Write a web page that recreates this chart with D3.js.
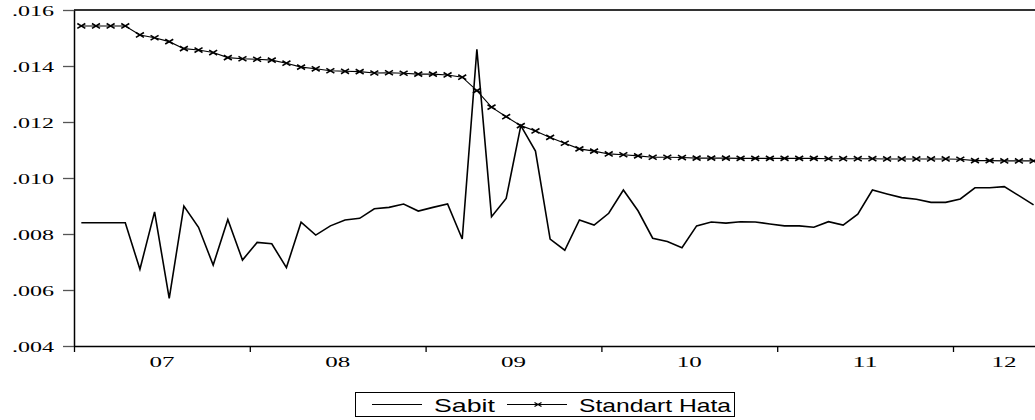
<!DOCTYPE html>
<html>
<head>
<meta charset="utf-8">
<script src="https://cdn.jsdelivr.net/npm/d3@7/dist/d3.min.js"></script>
<style>
  html, body { margin: 0; padding: 0; background: #fff; }
  svg { display: block; }
  .serif { font-family: "Liberation Serif", "DejaVu Serif", serif; }
  .sans { font-family: "Liberation Sans", Arial, sans-serif; }
</style>
</head>
<body>
<script>
// ---- data ----
const startYear = 2007;           // first observation: 2007M01, monthly
const yearLabels = ["07", "08", "09", "10", "11", "12"];
const yTicks = [0.004, 0.006, 0.008, 0.010, 0.012, 0.014, 0.016];
const seriesNames = ["Sabit", "Standart Hata"];

const sabit = [
  0.0084, 0.0084, 0.0084, 0.0084, 0.00674, 0.00879, 0.0057, 0.0090, 0.00824, 0.00689,
  0.00852, 0.00707, 0.0077, 0.00765, 0.0068, 0.00842, 0.00796, 0.00829, 0.0085, 0.00856,
  0.0089, 0.00895, 0.00907, 0.00882, 0.00895, 0.00907, 0.00782, 0.0146, 0.00862, 0.00927,
  0.01187, 0.01096, 0.00782, 0.00742, 0.0085, 0.00832, 0.00874, 0.00957, 0.00883, 0.00785,
  0.00773, 0.00751, 0.00829, 0.00843, 0.00839, 0.00844, 0.00843, 0.00836, 0.00829, 0.00829,
  0.00824, 0.00844, 0.00832, 0.00871, 0.00957, 0.00943, 0.0093, 0.00924, 0.00913, 0.00913,
  0.00925, 0.00965, 0.00965, 0.00969, 0.00937, 0.00904
];

const standartHata = [
  0.01543, 0.01543, 0.01543, 0.01543, 0.01511, 0.01501, 0.01487, 0.01462, 0.01457, 0.01448,
  0.0143, 0.01426, 0.01424, 0.01421, 0.0141, 0.01396, 0.0139, 0.01383, 0.01381, 0.0138,
  0.01375, 0.01376, 0.01374, 0.01371, 0.01371, 0.01368, 0.0136, 0.01312, 0.01253, 0.01219,
  0.01187, 0.01168, 0.01145, 0.01124, 0.01104, 0.01096, 0.01086, 0.01083, 0.01079, 0.01074,
  0.01074, 0.01073, 0.01071, 0.01071, 0.01071, 0.0107, 0.0107, 0.0107, 0.0107, 0.0107,
  0.0107, 0.01069, 0.01069, 0.01069, 0.01069, 0.01068, 0.01068, 0.01068, 0.01068, 0.01068,
  0.01067, 0.01062, 0.01062, 0.01061, 0.01061, 0.01061
];

// ---- layout ----
const W = 1035, H = 420;
const mLeft = 74, mTop = 10, mBottom = 346;
const frameRight = 1055;

const svg = d3.select("body").append("svg")
  .attr("width", W).attr("height", H);

const tOf = i => startYear + (i + 0.5) / 12;
const x = d3.scaleLinear()
  .domain([startYear, startYear + sabit.length / 12])
  .range([mLeft, mLeft + 175.8 * sabit.length / 12]);
const y = d3.scaleLinear().domain([0.004, 0.016]).range([mBottom, mTop]);

// frame top
svg.append("line")
  .attr("x1", mLeft).attr("x2", frameRight)
  .attr("y1", mTop).attr("y2", mTop)
  .attr("stroke", "#333").attr("stroke-width", 2);

// y axis
const yAxis = svg.append("g")
  .attr("transform", `translate(${mLeft},0)`)
  .call(d3.axisLeft(y).tickValues(yTicks)
    .tickFormat(d => d3.format(".3f")(d).replace(/^0/, ""))
    .tickSize(11).tickPadding(9).tickSizeOuter(0));
yAxis.attr("font-family", null).attr("font-size", null);
yAxis.select(".domain").attr("stroke", "#000").attr("stroke-width", 1.5);
yAxis.selectAll(".tick line").attr("stroke", "#555").attr("stroke-width", 1.3);
yAxis.selectAll("text")
  .attr("class", "serif")
  .attr("font-size", 15.5).attr("fill", "#000")
  .attr("textLength", 42).attr("lengthAdjust", "spacingAndGlyphs")
  .attr("dy", "0.35em");

// x axis
const yearStarts = yearLabels.map((_, k) => startYear + k);
const xAxis = svg.append("g")
  .attr("transform", `translate(0,${mBottom})`)
  .call(d3.axisBottom(x).tickValues(yearStarts).tickFormat("")
    .tickSize(6).tickSizeOuter(0));
xAxis.select(".domain").attr("stroke", "#000").attr("stroke-width", 1.5)
  .attr("d", `M${mLeft},0.5H${frameRight}`);
xAxis.selectAll(".tick line").attr("stroke", "#000").attr("stroke-width", 1.3);

svg.append("g").selectAll("text")
  .data(yearLabels)
  .join("text")
  .attr("class", "serif")
  .attr("x", (d, k) => {
    const a = x(startYear + k);
    const b = Math.min(x(startYear + k + 1), frameRight);
    return (a + b) / 2;
  })
  .attr("y", 367)
  .attr("text-anchor", "middle")
  .attr("font-size", 15.5)
  .attr("textLength", 25).attr("lengthAdjust", "spacingAndGlyphs")
  .text(d => d);

// lines
const line = d3.line().x((d, i) => x(tOf(i))).y(d => y(d));

svg.append("path")
  .datum(standartHata)
  .attr("d", line)
  .attr("fill", "none").attr("stroke", "#000").attr("stroke-width", 1.1);

const marker = "M-4,-2.4L4,2.4M-4,2.4L4,-2.4";
svg.append("g").selectAll("path")
  .data(standartHata)
  .join("path")
  .attr("transform", (d, i) => `translate(${x(tOf(i))},${y(d)})`)
  .attr("d", marker)
  .attr("stroke", "#000").attr("stroke-width", 1.6).attr("fill", "none");

svg.append("path")
  .datum(sabit)
  .attr("d", line)
  .attr("fill", "none").attr("stroke", "#000").attr("stroke-width", 1.6)
  .attr("stroke-linejoin", "miter");

// legend
const lg = svg.append("g");
lg.append("rect")
  .attr("x", 355.5).attr("y", 392.5).attr("width", 379).attr("height", 24)
  .attr("fill", "#fff").attr("stroke", "#000").attr("stroke-width", 1);
lg.append("line").attr("x1", 372).attr("x2", 422).attr("y1", 404.5).attr("y2", 404.5)
  .attr("stroke", "#000").attr("stroke-width", 1);
lg.append("text").attr("class", "sans").attr("x", 434).attr("y", 411.5)
  .attr("font-size", 18.5)
  .attr("textLength", 61).attr("lengthAdjust", "spacingAndGlyphs")
  .text(seriesNames[0]);
lg.append("line").attr("x1", 507).attr("x2", 567).attr("y1", 404.5).attr("y2", 404.5)
  .attr("stroke", "#000").attr("stroke-width", 1);
lg.append("path").attr("transform", "translate(538,404.5)").attr("d", "M-3.5,-2L3.5,2M-3.5,2L3.5,-2")
  .attr("stroke", "#000").attr("stroke-width", 1.3);
lg.append("text").attr("class", "sans").attr("x", 579).attr("y", 411.5)
  .attr("font-size", 18.5)
  .attr("textLength", 152).attr("lengthAdjust", "spacingAndGlyphs")
  .text(seriesNames[1]);
</script>
</body>
</html>
